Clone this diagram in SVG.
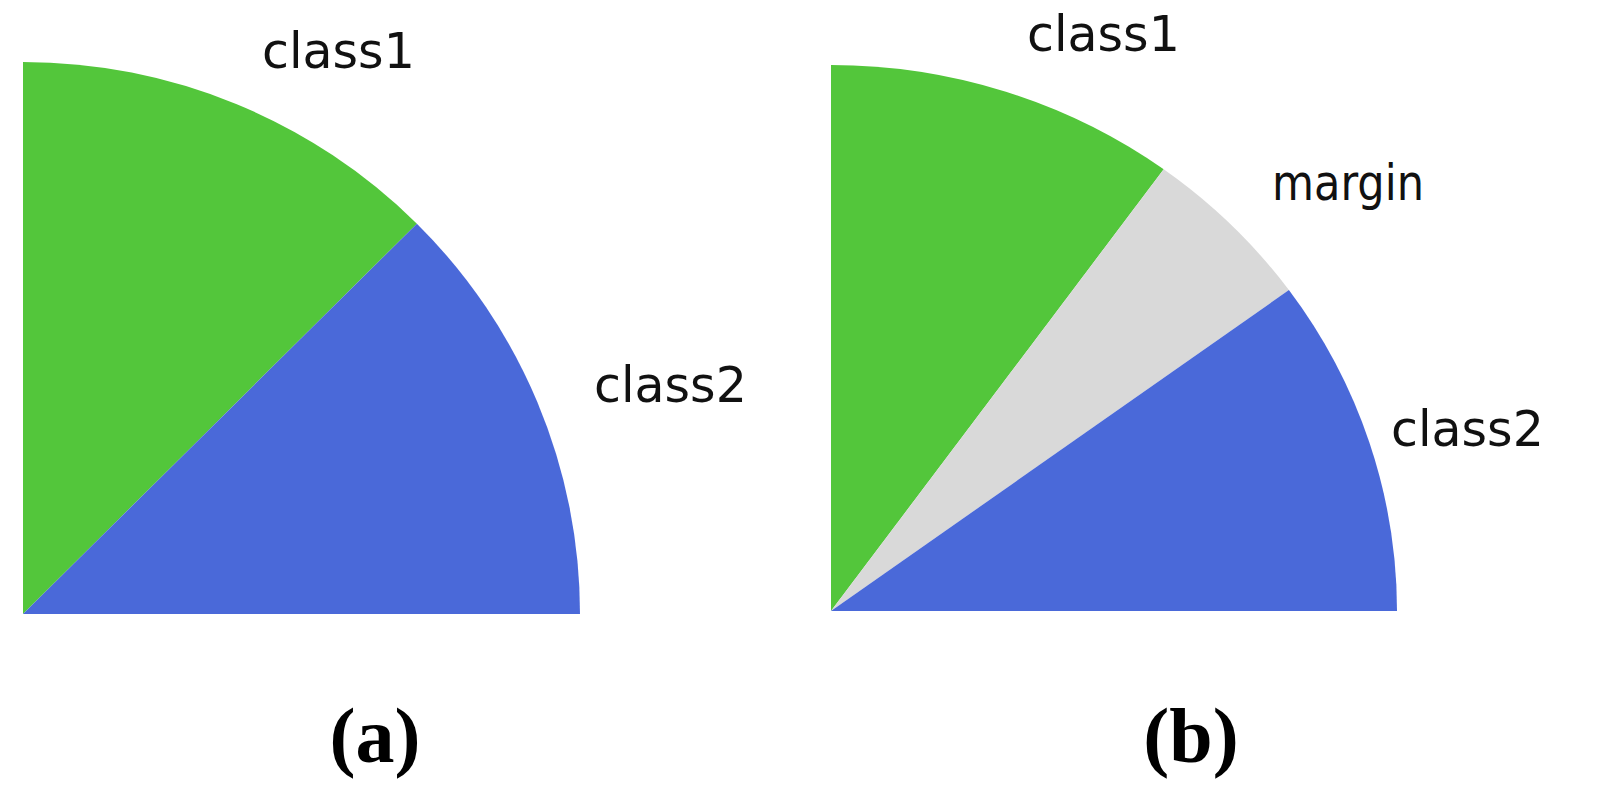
<svg xmlns="http://www.w3.org/2000/svg" width="1598" height="795" viewBox="0 0 1598 795">
<style>
.g{fill:#53c63b}
.b{fill:#4a69d9}
.m{fill:#d9d9d9}
.lbl{font-family:"DejaVu Sans",sans-serif;font-size:49px;fill:#111}
.cap{font-family:"Liberation Serif",serif;font-size:78px;font-weight:bold;fill:#000;text-anchor:middle}
</style>
<rect width="1598" height="795" fill="#fff"/>
<g id="panel-a">
<path class="g" d="M23,614 L23,62 A557,552 0 0 1 416.9,223.7 Z"/>
<path class="b" d="M23,614 L416.9,223.7 A557,552 0 0 1 580,614 Z"/>
<text class="lbl" x="262" y="68">class1</text>
<text class="lbl" x="594" y="402">class2</text>
<text class="cap" x="375" y="762">(a)</text>
</g>
<g id="panel-b">
<path class="g" d="M831,611 L831,65 A566,546 0 0 1 1163.7,169.3 Z"/>
<path class="m" d="M831,611 L1163.7,169.3 A566,546 0 0 1 1288.9,290.1 Z"/>
<path class="b" d="M831,611 L1288.9,290.1 A566,546 0 0 1 1397,611 Z"/>
<text class="lbl" x="1027" y="51">class1</text>
<text class="lbl" x="1272" y="200" textLength="152" lengthAdjust="spacingAndGlyphs">margin</text>
<text class="lbl" x="1391" y="446">class2</text>
<text class="cap" x="1191" y="762">(b)</text>
</g>
</svg>
